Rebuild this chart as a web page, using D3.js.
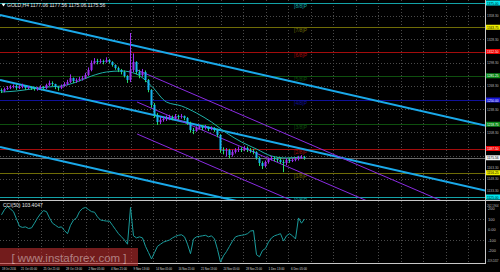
<!DOCTYPE html>
<html>
<head>
<meta charset="utf-8">
<script src="https://cdn.jsdelivr.net/npm/d3@7"></script>
<style>
  body { margin: 0; background: #000; }
  svg { display: block; font-family: "Liberation Sans", Arial, sans-serif; }
</style>
</head>
<body>
<svg id="chart" width="500" height="272"></svg>
<script>
// GOLD H4, 18 Oct - 6 Dec 2016 (bars)
const firstOpen = 1262.9;
const closes = [
  1261.6, 1264.2, 1265.5, 1266.7, 1268.0, 1265.5, 1266.7, 1268.0, 1265.5, 1266.7,
  1265.5, 1264.2, 1265.5, 1266.7, 1265.5, 1269.3, 1271.9, 1270.6, 1266.7, 1265.5,
  1268.0, 1270.6, 1273.2, 1278.3, 1274.5, 1275.8, 1277.1, 1278.3, 1282.2, 1288.7,
  1297.7, 1300.3, 1299.0, 1300.3, 1299.0, 1301.5, 1299.0, 1295.1, 1291.2, 1288.7,
  1286.1, 1280.9, 1275.8, 1288.7, 1299.0, 1286.1, 1282.2, 1286.1, 1275.8, 1262.9,
  1243.6, 1230.7, 1221.6, 1224.2, 1225.5, 1226.8, 1228.1, 1226.8, 1229.4, 1228.1,
  1229.4, 1226.8, 1220.4, 1211.3, 1210.0, 1213.9, 1215.2, 1213.9, 1215.2, 1212.6,
  1213.9, 1211.3, 1204.9, 1185.6, 1184.3, 1185.6, 1179.1, 1183.0, 1185.6, 1186.8,
  1185.6, 1188.1, 1185.6, 1184.3, 1183.0, 1175.3, 1168.8, 1164.9, 1170.1, 1174.0,
  1175.3, 1174.0, 1172.7, 1170.1, 1168.8, 1172.7, 1171.4, 1172.7, 1174.0, 1175.3,
  1176.5, 1175.6
];
const highs = [
  1265, 1266, 1268, 1269, 1270, 1270, 1269, 1271, 1269, 1268,
  1268, 1267, 1267, 1269, 1268, 1271, 1275, 1274, 1271, 1268,
  1270, 1273, 1276, 1283, 1279, 1278, 1280, 1281, 1285, 1292,
  1301, 1304, 1303, 1303, 1302, 1305, 1303, 1300, 1296, 1293,
  1290, 1288, 1282, 1336.3, 1310, 1300, 1289, 1290, 1288, 1277,
  1264, 1246, 1233, 1228, 1229, 1230, 1231, 1230, 1232, 1231,
  1232, 1230, 1228, 1222, 1214, 1216, 1218, 1217, 1218, 1216,
  1216, 1215, 1213, 1206, 1189, 1188, 1187, 1186, 1188, 1190,
  1189, 1191, 1190, 1188, 1187, 1184, 1177, 1171, 1172, 1176,
  1178, 1177, 1176, 1175, 1173, 1175, 1175, 1175, 1176, 1178,
  1179, 1178
];
const lows = [
  1259, 1260, 1263, 1264, 1265, 1263, 1264, 1265, 1263, 1264,
  1263, 1262, 1262, 1264, 1263, 1264, 1268, 1268, 1264, 1262,
  1264, 1267, 1269, 1272, 1272, 1272, 1274, 1275, 1277, 1281,
  1287, 1296, 1296, 1297, 1296, 1298, 1297, 1293, 1289, 1286,
  1283, 1279, 1272, 1273, 1286, 1283, 1278, 1280, 1273, 1260,
  1240, 1227, 1218, 1219, 1222, 1223, 1224, 1224, 1225, 1225,
  1226, 1224, 1218, 1208, 1206, 1209, 1212, 1211, 1212, 1210,
  1211, 1209, 1202, 1182, 1180, 1177, 1175, 1177, 1181, 1183,
  1183, 1184, 1183, 1182, 1180, 1173, 1165, 1161, 1163, 1168,
  1172, 1171, 1170, 1168, 1157, 1166, 1169, 1170, 1171, 1172,
  1174, 1173
];
// moving average, one value every 5 bars
const maValues = [
  1260.3, 1261.6, 1264.2, 1266.7, 1268.0, 1273.2, 1280.9, 1286.1, 1287.4, 1283.5,
  1268.0, 1247.4, 1242.3, 1233.2, 1221.6, 1207.5, 1195.9, 1186.8, 1177.8, 1175.3,
  1176.5
];
const cciValues = [
  140, 190, 220, 195, 170, 100, 30, 20, 25, 10,
  15, 60, 110, 150, 180, 170, 110, 60, 40, 20,
  25, -10, -40, 40, 90, 110, 170, 200, 210, 190,
  170, 165, 120, 90, 85, 80, 80, 40, 0, -40,
  -70, -100, -140, 210, -60, -80, -70, -80, -160, -220,
  -280, -220, -160, -140, -120, -110, -100, -80, -65, -55,
  -50, -70, -140, -230, -90, -70, -65, -60, -55, -70,
  -60, -90, -190, -310, -250, -210, -160, -110, -70, -60,
  -55, -50, -40, -15, -10, -240, -260, -200, -180, -120,
  -80, -60, -50, -40, -110, -60, -40, -60, -90, 110,
  60, 100
];
const lastPrice = 1175.56;
const murreyLevels = [1375.00, 1343.75, 1312.50, 1281.25, 1250.00, 1218.75, 1187.50, 1156.25, 1125.00];
const murreyNames = ['[8/8]P', '[7/8]P', '[6/8]P', '[5/8]P', '[4/8]P', '[3/8]P', '[2/8]P', '[1/8]P', '[0/8]P'];
const priceTicks = [1358.30, 1343.30, 1328.30, 1313.30, 1298.30, 1283.30, 1268.30, 1253.30,
  1238.30, 1223.30, 1208.30, 1193.30, 1178.30, 1163.30, 1148.30, 1133.30];
// trend lines: [barStart, priceStart, barEnd, priceEnd]
const blueChannel = [
  [-0.5, 1359.5, 161.2, 1217.0],
  [-0.5, 1275.8, 161.2, 1133.2],
  [-0.5, 1189.4, 161.2, 1046.9]
];
const violetChannel = [
  [45.2, 1288.7, 161.2, 1095.9],
  [45.2, 1247.4, 161.2, 1054.6],
  [45.2, 1206.2, 161.2, 1013.4]
];
const dateLabels = ['18 Oct 2016', '21 Oct 05:00', '25 Oct 21:00', '28 Oct 13:00', '2 Nov 05:00',
  '4 Nov 21:00', '9 Nov 13:00', '14 Nov 05:00', '16 Nov 21:00', '21 Nov 13:00',
  '24 Nov 05:00', '28 Nov 21:00', '1 Dec 13:00', '6 Dec 05:00'];
const cciTicks = [200, 100, 0, -100, -200];
const cciTop = '262.1904';
const cciBottom = '-319.2457';

const RIGHT = 485;
const PRICE_BOTTOM = 200;
const IND_TOP = 201;
const IND_BOTTOM = 263;
const BAR_STEP = 7.5; // bars between vertical grid lines
const LABEL_W = 11.5; // width of right-axis texts

const LEVEL_LINE = ['#13a3a8', '#6f6c06', '#a30c0c', '#0e4f0e', '#10109a', '#0e4f0e', '#a30c0c', '#6f6c06', '#13a3a8'];
const LEVEL_BOX = ['#00e5ee', '#eeee00', '#ee0000', '#0a8a1a', '#1616d8', '#0a8a1a', '#ee0000', '#eeee00', '#00e5ee'];
const LEVEL_BOX_TEXT = ['#000', '#000', '#fff', '#fff', '#fff', '#fff', '#fff', '#000', '#000'];

const svg = d3.select('#chart');
svg.append('rect').attr('width', 500).attr('height', 272).attr('fill', '#000');

const x = d3.scaleLinear().domain([0, closes.length - 1]).range([1.5, 1.5 + 3 * (closes.length - 1)]);
const y = d3.scaleLinear().domain([1125, 1375]).range([197, 3]);
const yc = d3.scaleLinear().domain([-100, 100]).range([240, 219]);

const defs = svg.append('defs');
defs.append('clipPath').attr('id', 'clipPrice')
  .append('rect').attr('x', 0).attr('y', 0).attr('width', RIGHT).attr('height', PRICE_BOTTOM);
defs.append('clipPath').attr('id', 'clipInd')
  .append('rect').attr('x', 0).attr('y', IND_TOP).attr('width', RIGHT).attr('height', IND_BOTTOM - IND_TOP);

// grid
const grid = svg.append('g').attr('stroke', '#4a4a4a').attr('stroke-width', 1).attr('stroke-dasharray', '1,2');
const gridBars = d3.range(0, 21).map(k => 5.5 + BAR_STEP * k).filter(b => x(b) < RIGHT);
gridBars.forEach(b => {
  const gx = Math.round(x(b)) + 0.5;
  grid.append('line').attr('x1', gx).attr('x2', gx).attr('y1', 0).attr('y2', PRICE_BOTTOM);
  grid.append('line').attr('x1', gx).attr('x2', gx).attr('y1', IND_TOP).attr('y2', IND_BOTTOM);
});
priceTicks.filter((d, i) => i % 2 === 0).forEach(p => {
  const gy = Math.round(y(p)) + 0.5;
  grid.append('line').attr('x1', 0).attr('x2', RIGHT).attr('y1', gy).attr('y2', gy);
});
[100, -100].forEach(v => {
  const gy = Math.round(yc(v)) + 0.5;
  grid.append('line').attr('x1', 0).attr('x2', RIGHT).attr('y1', gy).attr('y2', gy);
});

const price = svg.append('g').attr('clip-path', 'url(#clipPrice)');

// murrey levels
murreyLevels.forEach((lv, i) => {
  const ly = Math.round(y(lv)) + 0.5;
  price.append('line').attr('x1', 0).attr('x2', RIGHT).attr('y1', ly).attr('y2', ly)
    .attr('stroke', LEVEL_LINE[i]).attr('stroke-width', 1);
  price.append('text').attr('x', x(97.5)).attr('y', ly + 4)
    .attr('font-size', 5).attr('fill', LEVEL_LINE[i]).text(murreyNames[i]);
});

// current price line
price.append('line')
  .attr('x1', 0).attr('x2', RIGHT)
  .attr('y1', Math.round(y(lastPrice)) + 0.5).attr('y2', Math.round(y(lastPrice)) + 0.5)
  .attr('stroke', '#6a6a6a').attr('stroke-width', 1);

// channels
blueChannel.forEach(d => {
  price.append('line').attr('x1', x(d[0])).attr('y1', y(d[1])).attr('x2', x(d[2])).attr('y2', y(d[3]))
    .attr('stroke', '#1aa9ea').attr('stroke-width', 2);
});
violetChannel.forEach(d => {
  price.append('line').attr('x1', x(d[0])).attr('y1', y(d[1])).attr('x2', x(d[2])).attr('y2', y(d[3]))
    .attr('stroke', '#8a2be2').attr('stroke-width', 1);
});

// moving average
price.append('path')
  .datum(maValues)
  .attr('fill', 'none').attr('stroke', '#1fb0a8').attr('stroke-width', 1)
  .attr('d', d3.line().x((d, i) => x(i * 5)).y(d => y(d)).curve(d3.curveMonotoneX));

// candles
const candles = price.append('g');
closes.forEach((c, i) => {
  const o = i === 0 ? firstOpen : closes[i - 1];
  const up = c >= o;
  const cx = x(i);
  candles.append('line')
    .attr('x1', cx).attr('x2', cx).attr('y1', y(highs[i])).attr('y2', y(lows[i]))
    .attr('stroke', up ? '#9b2ff0' : '#25dd6a').attr('stroke-width', 1);
  const top = y(Math.max(o, c));
  candles.append('rect')
    .attr('x', cx - 1).attr('y', top).attr('width', 2)
    .attr('height', Math.max(1, y(Math.min(o, c)) - top))
    .attr('fill', up ? '#9b2ff0' : '#16b4ee');
});

// header
svg.append('path').attr('d', 'M1.5,3.5 L5.5,3.5 L3.5,6.5 Z').attr('fill', '#fff');
svg.append('text').attr('x', 7).attr('y', 7).attr('font-size', 5).attr('fill', '#e6e6e6')
  .text('GOLD,H4  1177.06 1177.56 1175.06 1175.56');

// indicator
const ind = svg.append('g').attr('clip-path', 'url(#clipInd)');
ind.append('path')
  .datum(cciValues)
  .attr('fill', 'none').attr('stroke', '#1a9c9c').attr('stroke-width', 1)
  .attr('d', d3.line().x((d, i) => x(i)).y(d => yc(d)));
svg.append('text').attr('x', 3).attr('y', 207).attr('font-size', 5).attr('fill', '#e6e6e6')
  .text('CCI(50) 103.4047');

// frames
const frame = svg.append('g').attr('stroke', '#c8c8c8').attr('stroke-width', 1);
frame.append('line').attr('x1', 0).attr('x2', 500).attr('y1', PRICE_BOTTOM + 0.5).attr('y2', PRICE_BOTTOM + 0.5);
frame.append('line').attr('x1', 0).attr('x2', RIGHT + 1).attr('y1', IND_BOTTOM + 0.5).attr('y2', IND_BOTTOM + 0.5);
frame.append('line').attr('x1', RIGHT + 0.5).attr('x2', RIGHT + 0.5).attr('y1', 0).attr('y2', IND_BOTTOM + 1);

// right price axis
function axisText(g, ty, str, fill) {
  g.append('text').attr('x', 487).attr('y', ty)
    .attr('textLength', LABEL_W).attr('lengthAdjust', 'spacingAndGlyphs')
    .attr('fill', fill).text(str);
}
const axisR = svg.append('g').attr('font-size', 4);
const boxed = murreyLevels.concat([lastPrice]);
priceTicks
  .filter(p => boxed.every(b => Math.abs(y(p) - y(b)) > 5))
  .forEach(p => axisText(axisR, y(p) + 1.5, p.toFixed(2), '#bdbdbd'));
murreyLevels.forEach((lv, i) => {
  const ly = y(lv);
  axisR.append('rect').attr('x', 486).attr('y', ly - 2.5).attr('width', 14).attr('height', 5).attr('fill', LEVEL_BOX[i]);
  axisText(axisR, ly + 1.5, lv.toFixed(2), LEVEL_BOX_TEXT[i]);
});
axisR.append('rect').attr('x', 486).attr('y', y(lastPrice) - 2.5).attr('width', 14).attr('height', 5).attr('fill', '#f2f2f2');
axisText(axisR, y(lastPrice) + 1.5, lastPrice.toFixed(2), '#000');

// right indicator axis
axisText(axisR, 206.5, cciTop, '#bdbdbd');
cciTicks.forEach(v => {
  axisR.append('text').attr('x', 488).attr('y', yc(v) + 1.5).attr('fill', '#bdbdbd').text(v === 0 ? '0.00' : v);
});
axisText(axisR, 261.5, cciBottom, '#bdbdbd');

// watermark
svg.append('rect').attr('x', 0).attr('y', 248).attr('width', 138).attr('height', 18)
  .attr('fill', 'rgba(185,45,45,0.62)');
svg.append('text').attr('x', 69).attr('y', 261.5).attr('text-anchor', 'middle')
  .attr('font-size', 11.5).attr('fill', 'rgba(255,255,255,0.45)')
  .text('[ www.instaforex.com ]');

// time axis
const axisB = svg.append('g').attr('font-size', 4).attr('fill', '#dcdcdc');
dateLabels.forEach((t, k) => {
  const lx = k === 0 ? 2 : x(5.5 + BAR_STEP * (k - 1)) + 3;
  axisB.append('text').attr('x', lx).attr('y', 269.5)
    .attr('textLength', k === 0 ? 14 : 16).attr('lengthAdjust', 'spacingAndGlyphs').text(t);
});
</script>
</body>
</html>
